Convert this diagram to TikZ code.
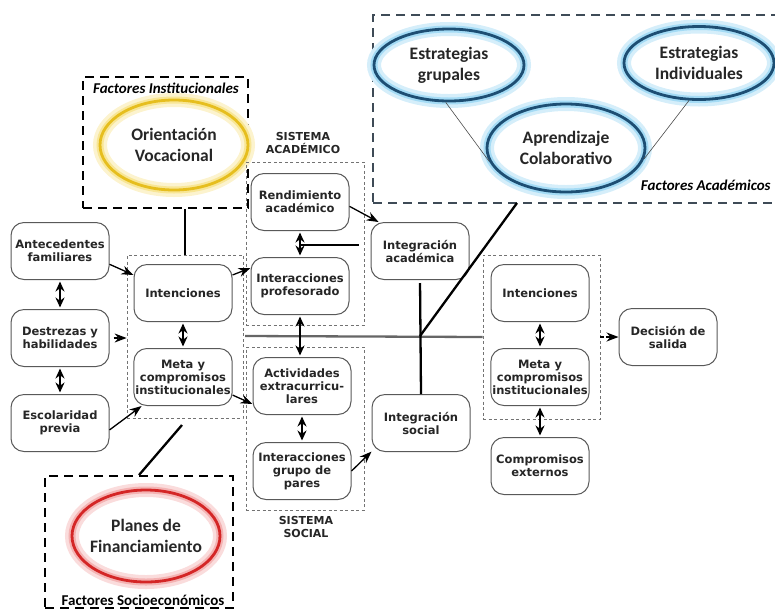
\documentclass[tikz,border=0pt]{standalone}
\usepackage{fontspec}
\setmainfont{DejaVu Sans}
\newfontfamily\califont{Carlito}
\usetikzlibrary{shapes.geometric,arrows.meta}
\definecolor{ringy}{HTML}{E6BE1E}
\definecolor{glowy}{HTML}{F6DE72}
\definecolor{ringb}{HTML}{1D4E73}
\definecolor{glowb}{HTML}{86CFF2}
\definecolor{ringr}{HTML}{D42626}
\definecolor{glowr}{HTML}{F09A9A}
\definecolor{slate}{HTML}{3E4B57}
\begin{document}
\begin{tikzpicture}[
        x=1pt, y=-1pt,
        thick,
        font=\fontsize{11.5}{13}\selectfont\bfseries
    ]
    \tikzset{
        mybox/.style = {rectangle, rounded corners=13pt, draw=black!65, line width=1pt,
                        align=center, fill=white, text=black!85, inner sep=1.5pt,
                        minimum width=98pt, minimum height=57pt},
        grpbox/.style = {rectangle, draw=black!55, line width=0.8pt, dash pattern=on 3pt off 2.5pt},
        factbox/.style = {rectangle, draw=black, line width=2pt, dash pattern=on 9pt off 6pt},
        glowell/.style 2 args = {ellipse, draw=#1, line width=2.8pt,
                        preaction={draw=#2!35, line width=14pt},
                        preaction={draw=#2!75, line width=7pt},
                        align=center, inner xsep=-16pt, inner ysep=0pt,
                        font=\califont\fontsize{17.5}{21}\selectfont\bfseries, text=black!85},
        factlabel/.style = {font=\califont\fontsize{15}{17}\selectfont\bfseries, inner sep=1pt},
        syslabel/.style = {align=center, font=\fontsize{11}{12.5}\selectfont\bfseries, text=black!85},
        edgea/.style = {-{Stealth[length=12pt,width=9pt]}, line width=1.3pt},
        edgeda/.style = {-{Stealth[length=12pt,width=9pt]}, line width=1.3pt, dash pattern=on 4pt off 2pt},
        edged/.style = {{Stealth[length=10pt,width=9pt]}-{Stealth[length=10pt,width=9pt]},
                        line width=1.8pt, shorten <=1.5pt, shorten >=1.5pt},
        edget/.style = {-, line width=2.3pt},
        edgeg/.style = {-, line width=2.3pt, black!60},
        edgef/.style = {-, line width=0.6pt, black!70},
    }
    \useasboundingbox (0,0) rectangle (775,611);
    % factores
    \node[factbox, minimum width=165pt, minimum height=131pt] at (165.5,142.5) (finst) {};
    \node[factbox, draw=slate, minimum width=417pt, minimum height=188pt] at (581.5,109) (facad) {};
    \node[factbox, minimum width=188pt, minimum height=132pt] at (139,542) (fsoc) {};
    \node[factlabel] at (166,88) (tinst) {\itshape Factores Institucionales};
    \node[factlabel, anchor=east] at (772,185) (tacad) {\itshape Factores Académicos};
    \node[factlabel] at (143,600) (tsoc) {Factores Socioeconómicos};
    %
    \node[glowell={ringy}{glowy}, minimum width=148pt, minimum height=90pt] at (174,145) (orient) {Orientación\\Vocacional};
    \node[glowell={ringb}{glowb}, minimum width=150pt, minimum height=72pt] at (449,65) (estrg) {Estrategias\\grupales};
    \node[glowell={ringb}{glowb}, minimum width=150pt, minimum height=73pt] at (699,63) (estri) {Estrategias\\Individuales};
    \node[glowell={ringb}{glowb}, minimum width=158pt, minimum height=88pt] at (566,148) (aprend) {Aprendizaje\\Colaborativo};
    \node[glowell={ringr}{glowr}, minimum width=148pt, minimum height=92pt] at (146,536) (planes) {Planes de\\Financiamiento};
    %
    \node[grpbox, minimum width=116pt, minimum height=163pt] at (185,336.5) (lgrp) {};
    \node[grpbox, minimum width=118pt, minimum height=163pt] at (305,243.5) (acad) {};
    \node[grpbox, minimum width=118pt, minimum height=163pt] at (305,428.5) (soc) {};
    \node[grpbox, minimum width=117pt, minimum height=164pt] at (541.5,337) (rgrp) {};
    \node[syslabel] at (303,143) (sacad) {SISTEMA\\ACADÉMICO};
    \node[syslabel] at (306,527) (ssoc) {SISTEMA\\SOCIAL};
    %
    \node[mybox] at (60,251) (antec) {Antecedentes\\familiares};
    \node[mybox] at (60,338) (destr) {Destrezas y\\habilidades};
    \node[mybox] at (60,423) (escol) {Escolaridad\\previa};
    \node[mybox] at (183,293) (intenl) {Intenciones};
    \node[mybox] at (183,377) (metal) {Meta y\\compromisos\\institucionales};
    \node[mybox] at (300,202) (rend) {Rendimiento\\académico};
    \node[mybox] at (300,286) (intp) {Interacciones\\profesorado};
    \node[mybox] at (302,386) (activ) {Actividades\\extracurricu-\\lares};
    \node[mybox] at (302,471) (grupo) {Interacciones\\grupo de\\pares};
    \node[mybox] at (420,251) (inta) {Integración\\académica};
    \node[mybox] at (421,423) (ints) {Integración\\social};
    \node[mybox] at (540,293) (intenr) {Intenciones};
    \node[mybox] at (540,377) (metar) {Meta y\\compromisos\\institucionales};
    \node[mybox] at (540,466) (compe) {Compromisos\\externos};
    \node[mybox] at (668,337) (decis) {Decisión de\\salida};
    %
    \coordinate (hbeg) at (245,336);
    \coordinate (junc) at (inta.south |- hbeg);
    \coordinate (dtop) at (517,203);
    \coordinate (lnk) at (300,245);
    \coordinate (fsend) at (182,425);
    %
    \draw[edget] (finst.south -| lgrp.north) -- (lgrp.north);
    \draw[edgeg] (hbeg) -- (rgrp.west);
    \draw[edget, shorten <=3pt] (inta.south) -- (ints.north);
    \draw[edget] (junc) -- (dtop);
    \draw[edget, shorten <=12pt] (inta.west |- lnk) -- (lnk);
    \draw[edget] (fsoc.north) -- (fsend);
    \draw[edgef] (estrg.265) -- (aprend.190);
    \draw[edgef] (estri.255) -- (aprend.-8);
    %
    \draw[edgea] (antec.-15) -- (intenl.160);
    \draw[edgeda, shorten <=4pt] (destr.east) -- (destr.east -| lgrp.west);
    \draw[edgea] (escol.-8) -- (metal.215);
    \draw[edgea] (intenl.20) -- (intp.160);
    \draw[edgea] (metal.-20) -- (activ.-160);
    \draw[edgea] (rend.-5) -- (inta.145);
    \draw[edgea] (grupo.0) -- (ints.-150);
    \draw[edgeda] (rgrp.east) -- (decis.west);
    %
    \draw[edged] (antec) -- (destr);
    \draw[edged] (destr) -- (escol);
    \draw[edged] (intenl) -- (metal);
    \draw[edged] (rend) -- (intp);
    \draw[edged] (intp.south) -- (intp.south |- activ.north);
    \draw[edged] (activ) -- (grupo);
    \draw[edged] (intenr) -- (metar);
    \draw[edged] (metar) -- (compe);
\end{tikzpicture}
\end{document}
